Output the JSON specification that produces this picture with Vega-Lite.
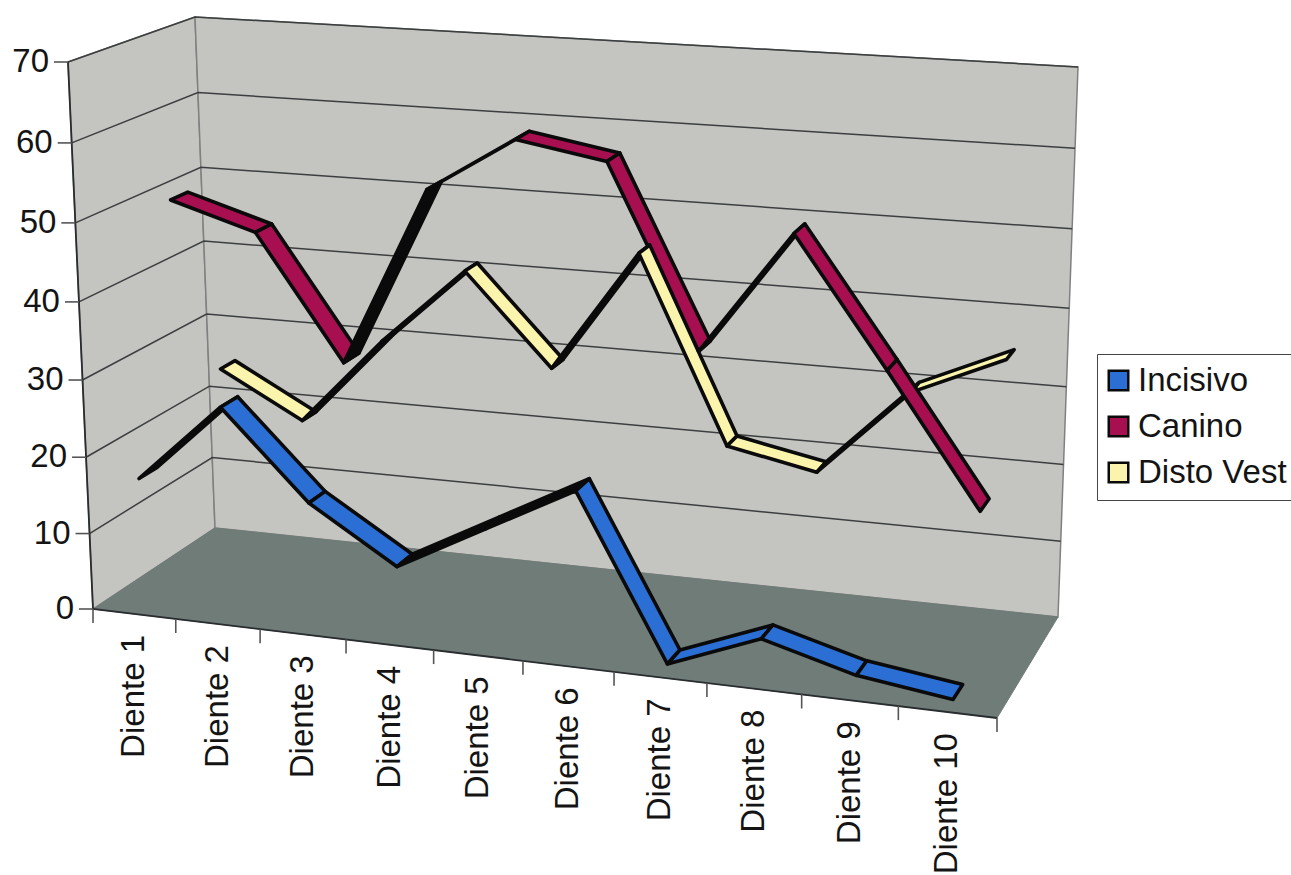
{
  "$schema": "https://vega.github.io/schema/vega-lite/v6.json",
  "width": 1291,
  "height": 875,
  "padding": 0,
  "autosize": {"type": "none"},
  "background": "#ffffff",
  "view": {"stroke": null},
  "config": {"text": {"font": "Liberation Sans"}},
  "datasets": {
    "planes": [
      {"plane": "floor", "corner": 0, "u": 0, "v": 0, "w": 0},
      {"plane": "floor", "corner": 1, "u": 10, "v": 0, "w": 0},
      {"plane": "floor", "corner": 2, "u": 10, "v": 0, "w": 1},
      {"plane": "floor", "corner": 3, "u": 0, "v": 0, "w": 1},
      {"plane": "left", "corner": 0, "u": 0, "v": 0, "w": 0},
      {"plane": "left", "corner": 1, "u": 0, "v": 0, "w": 1},
      {"plane": "left", "corner": 2, "u": 0, "v": 70, "w": 1},
      {"plane": "left", "corner": 3, "u": 0, "v": 70, "w": 0},
      {"plane": "back", "corner": 0, "u": 0, "v": 0, "w": 1},
      {"plane": "back", "corner": 1, "u": 10, "v": 0, "w": 1},
      {"plane": "back", "corner": 2, "u": 10, "v": 70, "w": 1},
      {"plane": "back", "corner": 3, "u": 0, "v": 70, "w": 1}
    ],
    "edges": [
      {"edge": "value axis", "corner": 0, "u": 0, "v": 70, "w": 0},
      {"edge": "value axis", "corner": 1, "u": 0, "v": 0, "w": 0},
      {"edge": "value axis", "corner": 2, "u": 10, "v": 0, "w": 0}
    ],
    "levels": [
      {"level": 0}, {"level": 10}, {"level": 20}, {"level": 30},
      {"level": 40}, {"level": 50}, {"level": 60}, {"level": 70}
    ],
    "bounds": [
      {"k": 0}, {"k": 1}, {"k": 2}, {"k": 3}, {"k": 4}, {"k": 5},
      {"k": 6}, {"k": 7}, {"k": 8}, {"k": 9}, {"k": 10}
    ],
    "teeth": [
      {"tooth": 1, "label": "Diente 1"}, {"tooth": 2, "label": "Diente 2"},
      {"tooth": 3, "label": "Diente 3"}, {"tooth": 4, "label": "Diente 4"},
      {"tooth": 5, "label": "Diente 5"}, {"tooth": 6, "label": "Diente 6"},
      {"tooth": 7, "label": "Diente 7"}, {"tooth": 8, "label": "Diente 8"},
      {"tooth": 9, "label": "Diente 9"}, {"tooth": 10, "label": "Diente 10"}
    ],
    "readings": [
      {"series": "Canino", "tooth": 1, "value": 50.3},
      {"series": "Canino", "tooth": 2, "value": 47},
      {"series": "Canino", "tooth": 3, "value": 31.1},
      {"series": "Canino", "tooth": 4, "value": 54.2},
      {"series": "Canino", "tooth": 5, "value": 61.3},
      {"series": "Canino", "tooth": 6, "value": 59.4},
      {"series": "Disto Vest", "tooth": 1, "value": 25},
      {"series": "Disto Vest", "tooth": 2, "value": 19},
      {"series": "Disto Vest", "tooth": 3, "value": 30.7},
      {"series": "Disto Vest", "tooth": 4, "value": 40.9},
      {"series": "Disto Vest", "tooth": 5, "value": 29.1},
      {"series": "Disto Vest", "tooth": 6, "value": 45},
      {"series": "Disto Vest", "tooth": 7, "value": 21},
      {"series": "Disto Vest", "tooth": 8, "value": 18.7},
      {"series": "Disto Vest", "tooth": 9, "value": 30.1},
      {"series": "Disto Vest", "tooth": 10, "value": 35.3},
      {"series": "Canino", "tooth": 7, "value": 36.7},
      {"series": "Canino", "tooth": 8, "value": 52.3},
      {"series": "Canino", "tooth": 9, "value": 36.4},
      {"series": "Canino", "tooth": 10, "value": 20},
      {"series": "Incisivo", "tooth": 1, "value": 17},
      {"series": "Incisivo", "tooth": 2, "value": 27.4},
      {"series": "Incisivo", "tooth": 3, "value": 16.2},
      {"series": "Incisivo", "tooth": 4, "value": 9.2},
      {"series": "Incisivo", "tooth": 5, "value": 15.3},
      {"series": "Incisivo", "tooth": 6, "value": 21.4},
      {"series": "Incisivo", "tooth": 7, "value": 0.7},
      {"series": "Incisivo", "tooth": 8, "value": 5.3},
      {"series": "Incisivo", "tooth": 9, "value": 2.1},
      {"series": "Incisivo", "tooth": 10, "value": 0.5}
    ]
  },
  "layer": [
    {
      "data": {"name": "planes"},
      "transform": [
        {"filter": "datum.plane !== 'floor'"},
        {"calculate": "0.907*(datum.u/10)/(1-0.093*(datum.u/10))", "as": "s"},
        {"calculate": "0.96*(datum.v/70)/(1-0.04*(datum.v/70))", "as": "t"},
        {"calculate": "93+904*datum.s-25*datum.t+122*datum.w+46*datum.s*datum.t-61*datum.s*datum.w+5*datum.t*datum.w-6*datum.s*datum.t*datum.w", "as": "px"},
        {"calculate": "609+109*datum.s-547*datum.t-81*datum.w-39*datum.s*datum.t-20*datum.s*datum.w+36*datum.t*datum.w", "as": "py"}
      ],
      "mark": {"type": "line", "interpolate": "linear-closed", "fill": "#c4c4c1", "stroke": "#808080", "strokeWidth": 1.5},
      "encoding": {
        "x": {"field": "px", "type": "quantitative", "scale": {"domain": [0, 1291], "nice": false, "zero": false}, "axis": null},
        "y": {"field": "py", "type": "quantitative", "scale": {"domain": [875, 0], "nice": false, "zero": false}, "axis": null},
        "detail": {"field": "plane"},
        "order": {"field": "corner"}
      }
    },
    {
      "data": {"name": "planes"},
      "transform": [
        {"filter": "datum.plane === 'floor'"},
        {"calculate": "0.907*(datum.u/10)/(1-0.093*(datum.u/10))", "as": "s"},
        {"calculate": "0.96*(datum.v/70)/(1-0.04*(datum.v/70))", "as": "t"},
        {"calculate": "93+904*datum.s-25*datum.t+122*datum.w+46*datum.s*datum.t-61*datum.s*datum.w+5*datum.t*datum.w-6*datum.s*datum.t*datum.w", "as": "px"},
        {"calculate": "609+109*datum.s-547*datum.t-81*datum.w-39*datum.s*datum.t-20*datum.s*datum.w+36*datum.t*datum.w", "as": "py"}
      ],
      "mark": {"type": "line", "interpolate": "linear-closed", "fill": "#6f7c77", "stroke": "#6f7c77", "strokeWidth": 1},
      "encoding": {
        "x": {"field": "px", "type": "quantitative"},
        "y": {"field": "py", "type": "quantitative"},
        "detail": {"field": "plane"},
        "order": {"field": "corner"}
      }
    },
    {
      "data": {"name": "levels"},
      "transform": [
        {"filter": "datum.level > 0"},
        {"calculate": "[0,1,2]", "as": "legs"},
        {"flatten": ["legs"], "as": ["leg"]},
        {"calculate": "datum.leg === 2 ? 1 : 0", "as": "s"},
        {"calculate": "0.96*(datum.level/70)/(1-0.04*(datum.level/70))", "as": "t"},
        {"calculate": "datum.leg === 0 ? 0 : 1", "as": "w"},
        {"calculate": "93+904*datum.s-25*datum.t+122*datum.w+46*datum.s*datum.t-61*datum.s*datum.w+5*datum.t*datum.w-6*datum.s*datum.t*datum.w", "as": "px"},
        {"calculate": "609+109*datum.s-547*datum.t-81*datum.w-39*datum.s*datum.t-20*datum.s*datum.w+36*datum.t*datum.w", "as": "py"}
      ],
      "mark": {"type": "line", "stroke": "#3c3f3f", "strokeWidth": 1.5},
      "encoding": {
        "x": {"field": "px", "type": "quantitative"},
        "y": {"field": "py", "type": "quantitative"},
        "detail": {"field": "level"},
        "order": {"field": "leg"}
      }
    },
    {
      "data": {"name": "edges"},
      "transform": [
        {"calculate": "0.907*(datum.u/10)/(1-0.093*(datum.u/10))", "as": "s"},
        {"calculate": "0.96*(datum.v/70)/(1-0.04*(datum.v/70))", "as": "t"},
        {"calculate": "93+904*datum.s-25*datum.t+122*datum.w+46*datum.s*datum.t-61*datum.s*datum.w+5*datum.t*datum.w-6*datum.s*datum.t*datum.w", "as": "px"},
        {"calculate": "609+109*datum.s-547*datum.t-81*datum.w-39*datum.s*datum.t-20*datum.s*datum.w+36*datum.t*datum.w", "as": "py"}
      ],
      "mark": {"type": "line", "stroke": "#2a2d2f", "strokeWidth": 1.8},
      "encoding": {
        "x": {"field": "px", "type": "quantitative"},
        "y": {"field": "py", "type": "quantitative"},
        "detail": {"field": "edge"},
        "order": {"field": "corner"}
      }
    },
    {
      "data": {"name": "levels"},
      "transform": [
        {"calculate": "0.96*(datum.level/70)/(1-0.04*(datum.level/70))", "as": "t"},
        {"calculate": "93-25*datum.t", "as": "px"},
        {"calculate": "609-547*datum.t", "as": "py"},
        {"calculate": "datum.px-14", "as": "tickEnd"}
      ],
      "mark": {"type": "rule", "stroke": "#555555", "strokeWidth": 1.6},
      "encoding": {
        "x": {"field": "px", "type": "quantitative"},
        "x2": {"field": "tickEnd"},
        "y": {"field": "py", "type": "quantitative"}
      }
    },
    {
      "data": {"name": "levels"},
      "transform": [
        {"calculate": "0.96*(datum.level/70)/(1-0.04*(datum.level/70))", "as": "t"},
        {"calculate": "93-25*datum.t", "as": "px"},
        {"calculate": "609-547*datum.t", "as": "py"}
      ],
      "mark": {"type": "text", "align": "right", "baseline": "middle", "dx": -19, "fontSize": 33, "color": "#141414"},
      "encoding": {
        "x": {"field": "px", "type": "quantitative"},
        "y": {"field": "py", "type": "quantitative"},
        "text": {"field": "level", "type": "quantitative"}
      }
    },
    {
      "data": {"name": "bounds"},
      "transform": [
        {"calculate": "0.907*(datum.k/10)/(1-0.093*(datum.k/10))", "as": "s"},
        {"calculate": "93+904*datum.s", "as": "px"},
        {"calculate": "609+109*datum.s", "as": "py"},
        {"calculate": "datum.py+14", "as": "tickEnd"}
      ],
      "mark": {"type": "rule", "stroke": "#555555", "strokeWidth": 1.6},
      "encoding": {
        "x": {"field": "px", "type": "quantitative"},
        "y": {"field": "py", "type": "quantitative"},
        "y2": {"field": "tickEnd"}
      }
    },
    {
      "data": {"name": "teeth"},
      "transform": [
        {"calculate": "0.907*((datum.tooth-0.5)/10)/(1-0.093*((datum.tooth-0.5)/10))", "as": "s"},
        {"calculate": "93+904*datum.s", "as": "px"},
        {"calculate": "609+109*datum.s", "as": "py"}
      ],
      "mark": {"type": "text", "align": "right", "baseline": "middle", "angle": 270, "dx": -21, "fontSize": 33, "color": "#141414"},
      "encoding": {
        "x": {"field": "px", "type": "quantitative"},
        "y": {"field": "py", "type": "quantitative"},
        "text": {"field": "label", "type": "nominal"}
      }
    },
    {
      "data": {"name": "readings"},
      "transform": [
        {"window": [{"op": "lead", "field": "value", "as": "next"}], "groupby": ["series"], "sort": [{"field": "tooth"}]},
        {"filter": "isValid(datum.next)"},
        {"calculate": "[0,1,2,3]", "as": "corners"},
        {"flatten": ["corners"], "as": ["corner"]},
        {"calculate": "datum.series + ' ' + datum.tooth", "as": "segment"},
        {"calculate": "datum.tooth - 0.5 + (datum.corner === 1 || datum.corner === 2 ? 1 : 0)", "as": "u"},
        {"calculate": "(datum.corner === 1 || datum.corner === 2 ? datum.next : datum.value)/70", "as": "vn"},
        {"calculate": "0.96*datum.vn/(1-0.04*datum.vn)", "as": "t"},
        {"calculate": "datum.series === 'Incisivo' ? 0.16 + (datum.corner >= 2 ? 0.075 : -0.075) : datum.series === 'Canino' ? 0.5 + (datum.corner >= 2 ? 0.07 : -0.07) : 0.84 + (datum.corner >= 2 ? 0.06 : -0.06)", "as": "w"},
        {"calculate": "0.907*(datum.u/10)/(1-0.093*(datum.u/10))", "as": "s"},
        {"calculate": "93+904*datum.s-25*datum.t+122*datum.w+46*datum.s*datum.t-61*datum.s*datum.w+5*datum.t*datum.w-6*datum.s*datum.t*datum.w", "as": "px"},
        {"calculate": "609+109*datum.s-547*datum.t-81*datum.w-39*datum.s*datum.t-20*datum.s*datum.w+36*datum.t*datum.w", "as": "py"},
        {
          "window": [
            {"op": "lead", "field": "px", "as": "nx"},
            {"op": "lead", "field": "py", "as": "ny"},
            {"op": "first_value", "field": "px", "as": "fx"},
            {"op": "first_value", "field": "py", "as": "fy"}
          ],
          "groupby": ["segment"],
          "sort": [{"field": "corner"}]
        },
        {"calculate": "datum.px*(isValid(datum.ny)?datum.ny:datum.fy) - (isValid(datum.nx)?datum.nx:datum.fx)*datum.py", "as": "term"},
        {"joinaggregate": [{"op": "sum", "field": "term", "as": "turn"}], "groupby": ["segment"]},
        {"calculate": "datum.turn < (datum.series === 'Disto Vest' ? -300 : -1500) ? datum.series : 'Reverso'", "as": "face"}
      ],
      "mark": {"type": "line", "interpolate": "linear-closed", "stroke": "#0a0a0a", "strokeWidth": 3.6, "strokeJoin": "round"},
      "encoding": {
        "x": {"field": "px", "type": "quantitative"},
        "y": {"field": "py", "type": "quantitative"},
        "detail": {"field": "segment"},
        "order": {"field": "corner"},
        "fill": {
          "field": "face",
          "type": "nominal",
          "scale": {
            "domain": ["Incisivo", "Canino", "Disto Vest", "Reverso"],
            "range": ["#2b6fd4", "#a80f50", "#fbf4ad", "#0a0a0a"]
          },
          "legend": {
            "values": ["Incisivo", "Canino", "Disto Vest"],
            "title": null,
            "orient": "none",
            "legendX": 1097,
            "legendY": 354,
            "padding": 10,
            "strokeColor": "#444444",
            "symbolType": "square",
            "symbolSize": 380,
            "symbolOffset": -5,
            "symbolStrokeColor": "#0a0a0a",
            "symbolStrokeWidth": 2.5,
            "symbolOpacity": 1,
            "labelFont": "Liberation Sans",
            "labelFontSize": 33,
            "labelColor": "#141414",
            "labelOffset": 3,
            "rowPadding": 12,
            "labelLimit": 400
          }
        }
      }
    }
  ]
}
